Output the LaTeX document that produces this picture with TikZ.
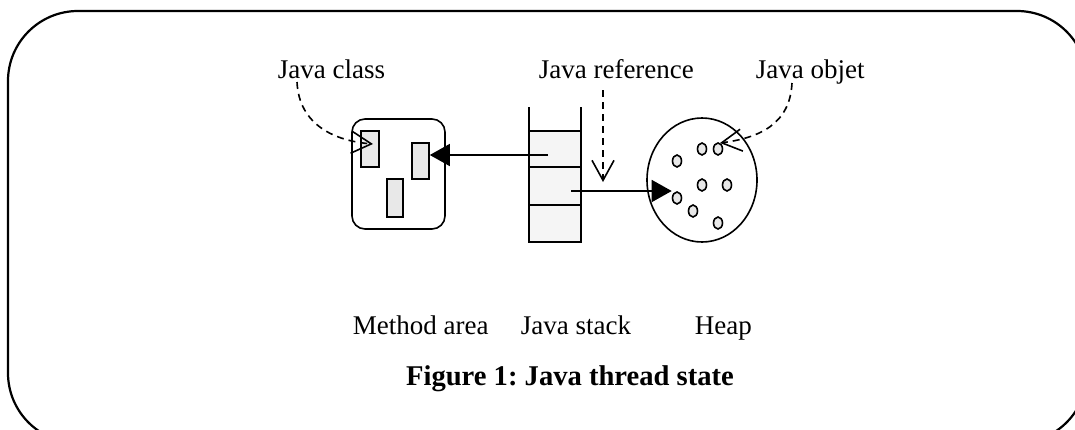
\documentclass[tikz,border=0pt]{standalone}
\usepackage{fontspec}
\setmainfont{Liberation Serif}
\frenchspacing
\usetikzlibrary{arrows.meta, shapes.geometric, positioning}
\definecolor{boxgray}{RGB}{232,232,232}
\definecolor{stackgray}{RGB}{245,245,245}
\tikzstyle{cls} = [draw, rectangle, fill=boxgray, inner sep=0]
\tikzstyle{cell} = [draw, rectangle, fill=stackgray, inner sep=0, outer sep=0,
   minimum width=26pt, minimum height=18pt]
\tikzstyle{obj} = [draw, ellipse, fill=boxgray, inner sep=0,
   minimum width=4.5pt, minimum height=6pt]
\tikzstyle{lbl} = [anchor=base west, inner sep=0, font=\fontsize{13.5}{16}\selectfont]
\tikzstyle{fillArrow} = [-{Triangle[length=10pt,width=11pt]}]
\tikzstyle{dashArrow} = [dash pattern=on 3.5pt off 2.5pt,
   -{Straight Barb[length=10pt,width=11pt]}]
\begin{document}
\begin{tikzpicture}[x=0.5pt,y=-0.5pt,line width=0.8pt]
  \clip (0,0) rectangle (1075,429);
  \draw[line width=1.1pt, rounded corners=35pt] (8,11) rectangle (1087,443);

  % method area
  \node[draw,rectangle,rounded corners=6.5pt,minimum width=46.5pt,minimum height=55pt] (ma) at (398.5,174) {};
  \node[cls,minimum width=9pt,minimum height=18pt] (c1) at (370,149) {};
  \node[cls,minimum width=8.5pt,minimum height=18pt] (c2) at (420.5,161) {};
  \node[cls,minimum width=8pt,minimum height=19pt] (c3) at (395,198) {};

  % java stack
  \node[cell] (s1) at (555,149) {};
  \node[cell,below=0pt of s1,minimum height=19pt] (s2) {};
  \node[cell,below=0pt of s2,minimum height=18.5pt] (s3) {};
  \draw (s1.north west) -- ++(0,-24);
  \draw (s1.north east) -- ++(0,-24);

  % heap
  \node[draw,ellipse,inner sep=0,minimum width=55pt,minimum height=62pt] (hp) at (702,180) {};
  \node[obj] (o1) at (702,149) {};
  \node[obj] (o2) at (718,149) {};
  \node[obj] (o3) at (677,161) {};
  \node[obj] (o4) at (702,185) {};
  \node[obj] (o5) at (727,185) {};
  \node[obj] (o6) at (677,198) {};
  \node[obj] (o7) at (693,211) {};
  \node[obj] (o8) at (718,223) {};

  % labels
  \node[lbl] (t1) at (277,78) {Java class};
  \node[lbl] (t2) at (538,78) {Java reference};
  \node[lbl] (t3) at (755,78) {Java objet};
  \node[lbl] (t4) at (352,334) {Method area};
  \node[lbl] (t5) at (520,334) {Java stack};
  \node[lbl] (t6) at (694,334) {Heap};
  \node[anchor=base,inner sep=0,font=\bfseries\fontsize{14.3}{17}\selectfont] (cap) at (570,385) {Figure 1: Java thread state};

  % references
  \coordinate (r1) at (548,155);
  \coordinate (r2) at (571,191);
  \draw[fillArrow] (r1) -- (r1 -| c2.east);
  \draw[fillArrow] (r2) -- (r2 -| o6.west);

  % dashed pointers, free ends below the labels
  \coordinate (d1) at (297,82);
  \coordinate (e1) at (373,144);
  \coordinate (d2) at (603,90);
  \coordinate (e2) at (603,182);
  \coordinate (d3) at (792,83);
  \coordinate (e3) at (720,143);
  \draw[dashArrow] (d1) .. controls (299,125) and (335,141) .. (e1);
  \draw[dashArrow] (d2) -- (e2);
  \draw[dashArrow] (d3) .. controls (790,125) and (758,138) .. (e3);
\end{tikzpicture}
\end{document}
